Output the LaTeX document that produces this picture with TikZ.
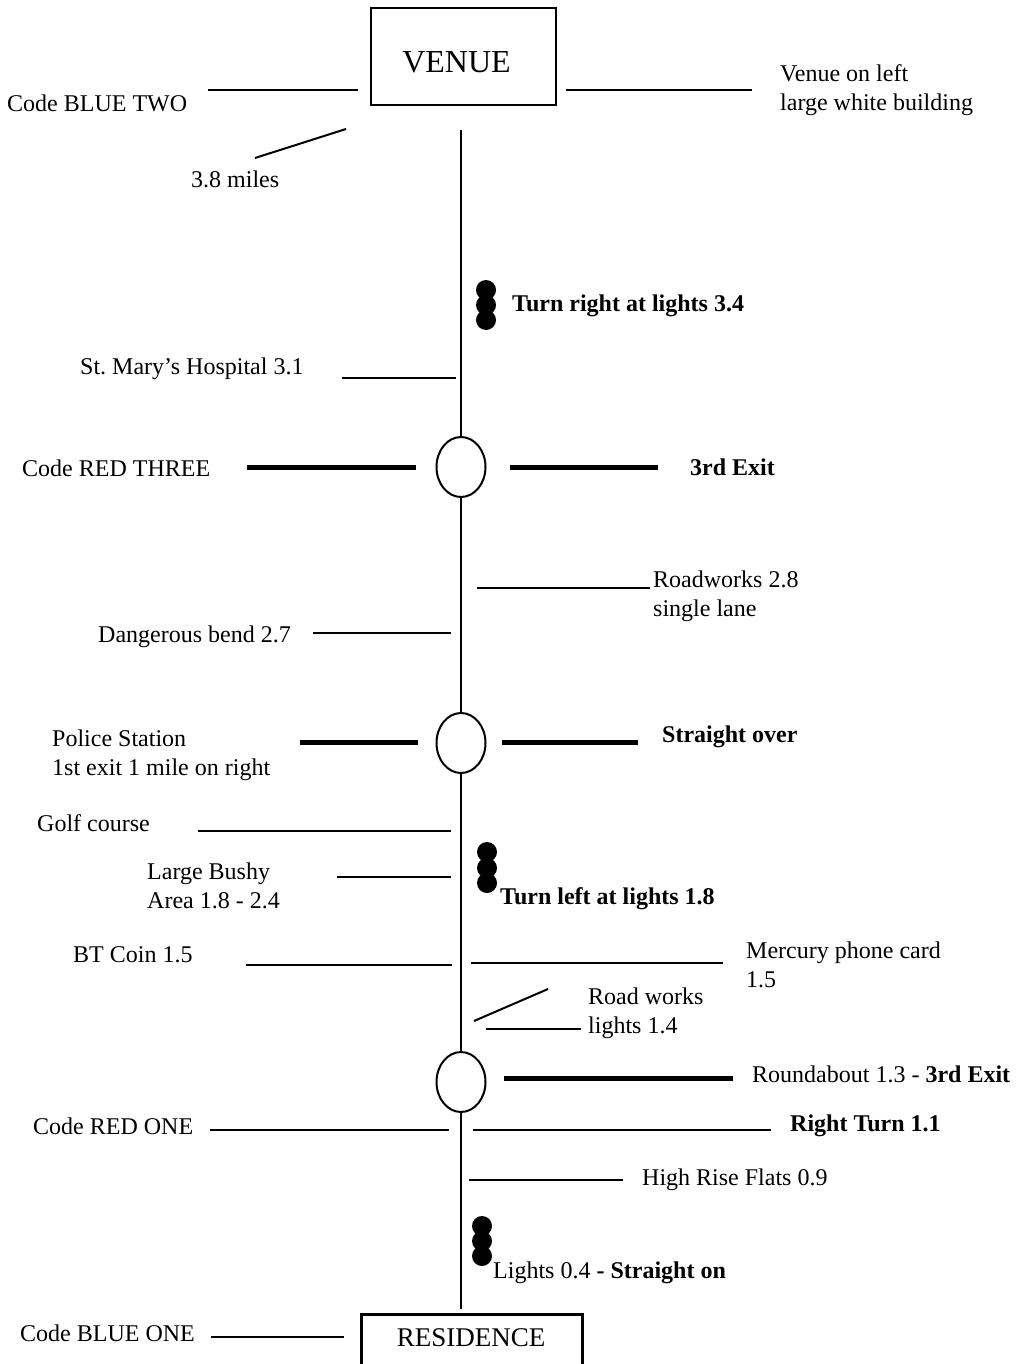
\documentclass[tikz,border=0pt]{standalone}
\usepackage{fontspec}
\setmainfont{Liberation Serif}
\usetikzlibrary{shapes.geometric}
\begin{document}
\begin{tikzpicture}[x=1pt,y=-1pt,
  lbl/.style={inner sep=0pt,anchor=west,font=\fontsize{24}{28.8}\selectfont,align=left},
  blbl/.style={lbl,font=\fontsize{24}{28.8}\selectfont\bfseries},
  thin/.style={line width=2pt},
  thick/.style={line width=5pt},
  rb/.style={draw,ellipse,line width=2pt,minimum width=49pt,minimum height=60pt,inner sep=0pt},
  dot/.style={circle,fill=black,minimum size=20pt,inner sep=0pt},
  road/.style={line width=2.2pt}]
\useasboundingbox (0,0) rectangle (1020,1364);
\clip (0,0) rectangle (1020,1364);
% boxes
\node[draw,line width=2.5pt,minimum width=185pt,minimum height=97pt,inner sep=0pt] (venue) at (463.5,56.5) {};
\node[inner sep=0pt,font=\fontsize{32}{36}\selectfont] (venuet) at (456.5,62) {VENUE};
\node[draw,line width=2.5pt,minimum width=221pt,minimum height=80pt,inner sep=0pt,anchor=north west] (res) at (360,1313) {};
\node[inner sep=0pt,font=\fontsize{27}{30}\selectfont] (rest) at (471,1338) {RESIDENCE};
% roundabouts
\node[rb] (r1) at (461,467) {};
\node[rb] (r2) at (461,743) {};
\node[rb] (r3) at (461,1082) {};
% main road
\coordinate (top) at (461,130);
\coordinate (bot) at (461,1309);
\draw[road] (top) -- (r1.north);
\draw[road] (r1.south) -- (r2.north);
\draw[road] (r2.south) -- (r3.north);
\draw[road] (r3.south) -- (bot);
% venue labels
\node[lbl] (cbt) at (7,103) {Code BLUE TWO};
\coordinate (cbta) at (208,90); \coordinate (cbtb) at (358,90);
\draw[thin] (cbta) -- (cbtb);
\node[lbl] (vol) at (780,90) {Venue on left\\large white building};
\coordinate (vola) at (566,90); \coordinate (volb) at (752,90);
\draw[thin] (vola) -- (volb);
\node[lbl] (miles) at (191,179) {3.8 miles};
\coordinate (ma) at (346,129); \coordinate (mb) at (255,158);
\draw[thin] (ma) -- (mb);
% lights 1
\node[dot] (l1a) at (486,290) {};
\node[dot] (l1b) at (486,305) {};
\node[dot] (l1c) at (486,320) {};
\node[blbl] (trl) at (512,306) {Turn right at lights 3.4};
% hospital
\node[lbl] (hosp) at (80,369) {St.\ Mary’s Hospital 3.1};
\coordinate (ha) at (342,378); \coordinate (hb) at (456,378);
\draw[thin] (ha) -- (hb);
% roundabout 1
\node[lbl] (crt) at (22,468) {Code RED THREE};
\coordinate (r1l) at (247,467); \coordinate (r1lb) at (416,467);
\draw[thick] (r1l) -- (r1lb);
\coordinate (r1r) at (510,467); \coordinate (r1rb) at (658,467);
\draw[thick] (r1r) -- (r1rb);
\node[blbl] (ex3) at (690,467) {3rd Exit};
% roadworks
\node[lbl] (rw) at (653,596) {Roadworks 2.8\\single lane};
\coordinate (rwa) at (477,588); \coordinate (rwb) at (650,588);
\draw[thin] (rwa) -- (rwb);
\node[lbl] (db) at (98,637) {Dangerous bend 2.7};
\coordinate (dba) at (313,633); \coordinate (dbb) at (451,633);
\draw[thin] (dba) -- (dbb);
% roundabout 2
\node[lbl] (pol) at (52,755) {Police Station\\1st exit 1 mile on right};
\coordinate (r2l) at (300,742); \coordinate (r2lb) at (418,742);
\draw[thick] (r2l) -- (r2lb);
\coordinate (r2r) at (502,742); \coordinate (r2rb) at (638,742);
\draw[thick] (r2r) -- (r2rb);
\node[blbl] (so) at (662,737) {Straight over};
% golf / bushy
\node[lbl] (golf) at (37,823) {Golf course};
\coordinate (ga) at (198,831); \coordinate (gb) at (451,831);
\draw[thin] (ga) -- (gb);
\node[lbl] (bush) at (147,886) {Large Bushy\\Area 1.8 - 2.4};
\coordinate (ba) at (337,877); \coordinate (bb) at (451,877);
\draw[thin] (ba) -- (bb);
% lights 2
\node[dot] (l2a) at (487,852) {};
\node[dot] (l2b) at (487,868) {};
\node[dot] (l2c) at (487,883) {};
\node[blbl] (tll) at (500,899) {Turn left at lights 1.8};
% BT coin / Mercury
\node[lbl] (bt) at (73,955) {BT Coin 1.5};
\coordinate (bta) at (246,965); \coordinate (btb) at (452,965);
\draw[thin] (bta) -- (btb);
\coordinate (mca) at (471,963); \coordinate (mcb) at (723,963);
\draw[thin] (mca) -- (mcb);
\node[lbl] (merc) at (746,965) {Mercury phone card\\1.5};
% road works lights
\coordinate (rwla) at (474,1021); \coordinate (rwlb) at (548,989);
\draw[thin] (rwla) -- (rwlb);
\coordinate (rwlc) at (486,1029); \coordinate (rwld) at (581,1029);
\draw[thin] (rwlc) -- (rwld);
\node[lbl] (rwl) at (588,1013) {Road works\\lights 1.4};
% roundabout 3
\coordinate (r3r) at (504,1078); \coordinate (r3rb) at (733,1078);
\draw[thick] (r3r) -- (r3rb);
\node[lbl] (rb13) at (752,1074) {Roundabout 1.3 - \textbf{3rd Exit}};
% red one
\node[lbl] (cro) at (33,1126) {Code RED ONE};
\coordinate (croa) at (210,1130); \coordinate (crob) at (449,1130);
\draw[thin] (croa) -- (crob);
\coordinate (rta) at (473,1130); \coordinate (rtb) at (771,1130);
\draw[thin] (rta) -- (rtb);
\node[blbl] (rt) at (790,1126) {Right Turn 1.1};
% flats
\coordinate (hra) at (469,1180); \coordinate (hrb) at (623,1180);
\draw[thin] (hra) -- (hrb);
\node[lbl] (hr) at (642,1180) {High Rise Flats 0.9};
% lights 3
\node[dot] (l3a) at (482,1226) {};
\node[dot] (l3b) at (482,1241) {};
\node[dot] (l3c) at (482,1256) {};
\node[lbl] (l04) at (493,1273) {Lights 0.4 \textbf{- Straight on}};
% blue one
\node[lbl] (cbo) at (20,1333) {Code BLUE ONE};
\coordinate (cboa) at (211,1337); \coordinate (cbob) at (344,1337);
\draw[thin] (cboa) -- (cbob);
\end{tikzpicture}
\end{document}
